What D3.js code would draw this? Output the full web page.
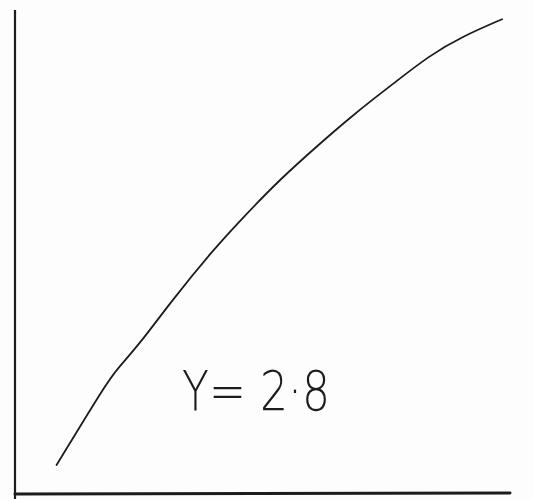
<!DOCTYPE html>
<html>
<head>
<meta charset="utf-8">
<script src="https://cdn.jsdelivr.net/npm/d3@7"></script>
<style>
  body { margin: 0; background: #fdfdfd; }
  svg { display: block; }
</style>
</head>
<body>
<div id="chart"></div>
<script>
// values (0-100 on both axes)
const xs = [8.4, 18.5, 20.5, 25.3, 31.3, 40.0, 45.5, 53.5, 62.2, 67.7, 72.7, 75.8, 83.8, 90.5, 98.4];
const ys = [6.2, 23.1, 25.8, 31.3, 39.6, 50.5, 56.6, 65.1, 73.0, 77.8, 81.9, 84.3, 90.7, 94.6, 98.1];
const label = "Y= 2·8";

const width = 533, height = 499;
const margin = {top: 10, right: 23, bottom: 4, left: 15};

const svg = d3.select("#chart").append("svg")
    .attr("width", width)
    .attr("height", height);

const x = d3.scaleLinear().domain([0, 100]).range([margin.left, width - margin.right]);
const y = d3.scaleLinear().domain([0, 100]).range([height - margin.bottom, margin.top]);

// y axis, runs off the bottom of the page
svg.append("line")
    .attr("x1", x(0)).attr("x2", x(0))
    .attr("y1", y(100)).attr("y2", height)
    .attr("stroke", "#1c1c1c")
    .attr("stroke-width", 2.2);

// x axis
svg.append("line")
    .attr("x1", x(0)).attr("x2", x(100))
    .attr("y1", y(0) - 1).attr("y2", y(0) - 2)
    .attr("stroke", "#1c1c1c")
    .attr("stroke-width", 3)
    .attr("stroke-linecap", "round");

const pts = xs.map((v, i) => [v, ys[i]]);

// basis spline smooths out the hand wobble of the read-off points
const line = d3.line()
    .x(d => x(d[0]))
    .y(d => y(d[1]))
    .curve(d3.curveBasis);

svg.append("path")
    .datum(pts)
    .attr("d", line)
    .attr("fill", "none")
    .attr("stroke", "#1c1c1c")
    .attr("stroke-width", 1.8)
    .attr("stroke-linecap", "round");

svg.append("text")
    .attr("x", 182)
    .attr("y", 410)
    .attr("font-family", "DejaVu Sans")
    .attr("font-weight", 200)
    .attr("font-size", 56)
    .attr("textLength", 148)
    .attr("lengthAdjust", "spacingAndGlyphs")
    .attr("fill", "#1c1c1c")
    .text(label);
</script>
</body>
</html>
